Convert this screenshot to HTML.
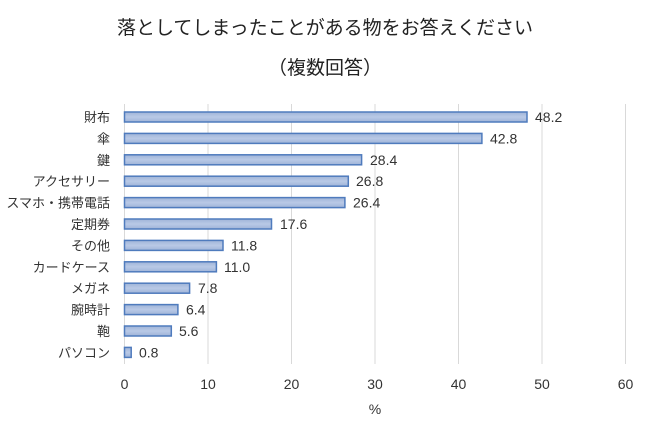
<!DOCTYPE html>
<html><head><meta charset="utf-8"><style>
body{margin:0;background:#fff;}
svg text{font-family:"Liberation Sans","Noto Sans CJK JP",sans-serif;}
</style></head><body>
<svg width="650" height="432" xmlns="http://www.w3.org/2000/svg">
<defs><linearGradient id="g" x1="0" y1="0" x2="0" y2="1">
<stop offset="0" stop-color="#9fb4d8"/><stop offset="0.5" stop-color="#b9c9e6"/><stop offset="1" stop-color="#9fb4d8"/></linearGradient></defs>
<text x="325" y="34" font-size="19" text-anchor="middle" fill="#222">落としてしまったことがある物をお答えください</text>
<text x="325" y="74" font-size="19" text-anchor="middle" fill="#222">（複数回答）</text>
<g stroke="#d9d9d9" stroke-width="1">
<line x1="124.5" y1="104" x2="124.5" y2="364"/>
<line x1="208" y1="104" x2="208" y2="364"/>
<line x1="291.5" y1="104" x2="291.5" y2="364"/>
<line x1="375" y1="104" x2="375" y2="364"/>
<line x1="458.5" y1="104" x2="458.5" y2="364"/>
<line x1="542" y1="104" x2="542" y2="364"/>
<line x1="625.5" y1="104" x2="625.5" y2="364"/>
</g>
<g font-size="14" fill="#333" text-anchor="middle">
<text x="124.5" y="389">0</text><text x="208" y="389">10</text><text x="291.5" y="389">20</text><text x="375" y="389">30</text><text x="458.5" y="389">40</text><text x="542" y="389">50</text><text x="625.5" y="389">60</text>
<text x="375" y="414">%</text>
</g>
<g fill="url(#g)" stroke="#4f7bbd" stroke-width="1.5">
<rect x="124.5" y="112" width="402.5" height="10"/>
<rect x="124.5" y="133.4" width="357.4" height="10"/>
<rect x="124.5" y="154.8" width="237.1" height="10"/>
<rect x="124.5" y="176.2" width="223.8" height="10"/>
<rect x="124.5" y="197.6" width="220.4" height="10"/>
<rect x="124.5" y="219" width="147" height="10"/>
<rect x="124.5" y="240.4" width="98.5" height="10"/>
<rect x="124.5" y="261.8" width="91.9" height="10"/>
<rect x="124.5" y="283.2" width="65.1" height="10"/>
<rect x="124.5" y="304.6" width="53.4" height="10"/>
<rect x="124.5" y="326" width="46.8" height="10"/>
<rect x="124.5" y="347.4" width="6.7" height="10"/>
</g>
<g font-size="13" fill="#333" text-anchor="end">
<text x="110" y="122">財布</text>
<text x="110" y="143.4">傘</text>
<text x="110" y="164.8">鍵</text>
<text x="110" y="186.2">アクセサリー</text>
<text x="110" y="207.6">スマホ・携帯電話</text>
<text x="110" y="229">定期券</text>
<text x="110" y="250.4">その他</text>
<text x="110" y="271.8">カードケース</text>
<text x="110" y="293.2">メガネ</text>
<text x="110" y="314.6">腕時計</text>
<text x="110" y="336">鞄</text>
<text x="110" y="357.4">パソコン</text>
</g>
<g font-size="14" fill="#333">
<text x="535" y="122">48.2</text>
<text x="490" y="143.4">42.8</text>
<text x="370" y="164.8">28.4</text>
<text x="356" y="186.2">26.8</text>
<text x="353" y="207.6">26.4</text>
<text x="280" y="229">17.6</text>
<text x="231" y="250.4">11.8</text>
<text x="224" y="271.8">11.0</text>
<text x="198" y="293.2">7.8</text>
<text x="186" y="314.6">6.4</text>
<text x="179" y="336">5.6</text>
<text x="139" y="357.4">0.8</text>
</g>
</svg>
</body></html>
